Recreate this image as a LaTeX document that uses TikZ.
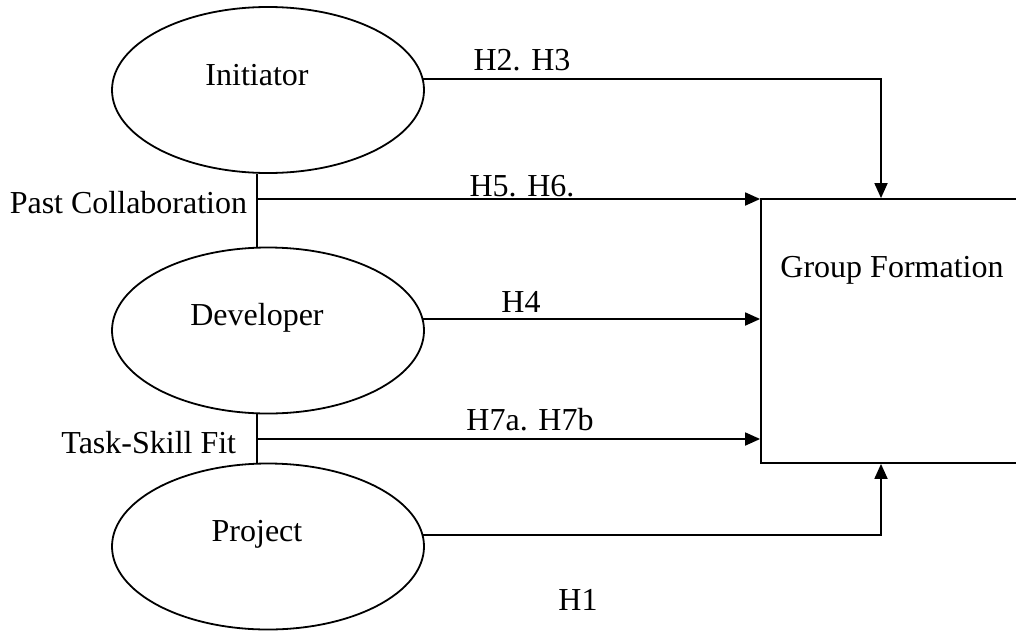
\documentclass[tikz,border=0pt]{standalone}
\usepackage{fontspec}
\setmainfont{Liberation Serif}
\usetikzlibrary{shapes.geometric,arrows.meta}
\begin{document}
\begin{tikzpicture}[x=1pt,y=-1pt,
  line width=1.8pt,
  every node/.style={font=\fontsize{32}{38}\selectfont},
  construct/.style={draw,ellipse,minimum width=312pt,minimum height=166pt,inner sep=0pt},
  txt/.style={inner sep=0pt,anchor=base},
  link/.style={-{Triangle[length=15pt,width=13pt]}}]
\useasboundingbox (0,0) rectangle (1016,632);
% constructs
\node[construct] (init) at (268,90) {};
\node[construct] (dev) at (268,330.5) {};
\node[construct] (proj) at (268,546.5) {};
\node[txt] (initT) at (257,85) {Initiator};
\node[txt] (devT) at (257,325) {Developer};
\node[txt] (projT) at (257,541) {Project};
% outcome box (runs off the right edge)
\node[draw,minimum width=261pt,minimum height=264pt,inner sep=0pt] (gf) at (891.5,331) {};
\node[txt] (gfT) at (892,277) {Group Formation};
% junction points
\coordinate (spine) at (257,0);
\coordinate (pc) at (257,199);
\coordinate (tsf) at (257,439);
\coordinate (h23) at (422.6,79);
\coordinate (h4) at (422.6,319);
\coordinate (h1) at (422.6,535);
\coordinate (drop) at (881,0);
% links between constructs
\draw (init.south -| spine) -- (dev.north -| spine);
\draw (dev.south -| spine) -- (proj.north -| spine);
% arrows into the box
\draw[link] (h23) -- (h23 -| drop) -- (gf.north -| drop);
\draw[link] (pc) -- (pc -| gf.west);
\draw[link] (h4) -- (h4 -| gf.west);
\draw[link] (tsf) -- (tsf -| gf.west);
\draw[link] (h1) -- (h1 -| drop) -- (gf.south -| drop);
% labels
\node[txt] (l23) at (522,70) {H2. H3};
\node[txt] (l56) at (522,196) {H5. H6.};
\node[txt] (l4) at (521,312) {H4};
\node[txt] (l7) at (530,430) {H7a. H7b};
\node[txt] (l1) at (578,610) {H1};
\node[txt,anchor=base east] (lpc) at (248,213) {Past Collaboration};
\node[txt,anchor=base east] (ltsf) at (237,453) {Task-Skill Fit};
\end{tikzpicture}
\end{document}
